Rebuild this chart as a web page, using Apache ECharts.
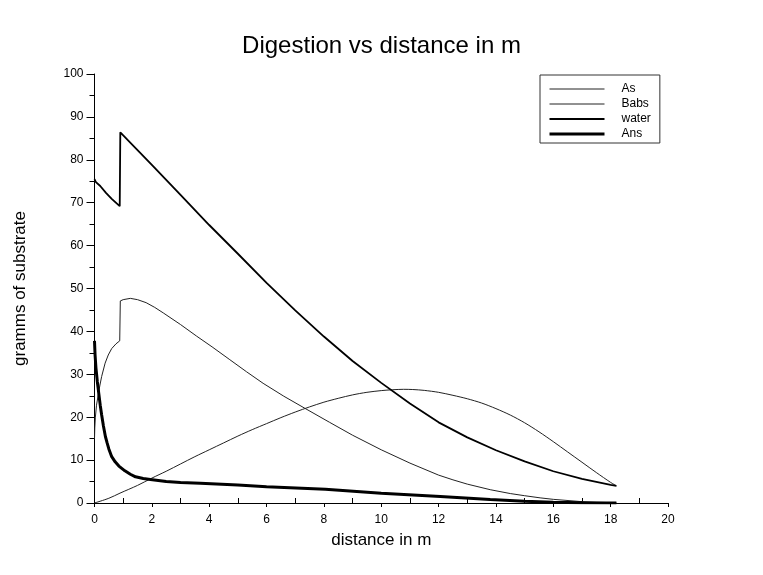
<!DOCTYPE html>
<html>
<head>
<meta charset="utf-8">
<script src="https://cdn.jsdelivr.net/npm/echarts@6/dist/echarts.min.js"></script>
<style>html,body{margin:0;padding:0;background:#fff}#c{width:763px;height:575px}</style>
</head>
<body>
<div id="c"></div>
<script>
const titleText = 'Digestion vs distance in m';
const xName = 'distance in m';
const yName = 'gramms of substrate';
const seriesNames = ['As', 'Babs', 'water', 'Ans'];

const asX = [0, 0.5, 0.89, 1.5, 2, 2.5, 3, 3.5, 4, 4.5, 5, 5.5, 6, 6.5, 7, 7.5, 8, 8.5, 9, 9.5, 10, 10.4, 10.78, 11.1, 11.5, 12, 12.5, 13, 13.5, 14, 14.5, 15, 15.5, 16, 16.5, 17, 17.5, 18, 18.2];
const asY = [0, 1.1, 2.3, 4.1, 5.8, 7.4, 9.1, 10.8, 12.4, 14.0, 15.6, 17.1, 18.5, 19.9, 21.2, 22.4, 23.5, 24.4, 25.2, 25.8, 26.2, 26.4, 26.5, 26.45, 26.25, 25.8, 25.1, 24.3, 23.3, 22.0, 20.5, 18.7, 16.6, 14.3, 11.9, 9.5, 7.1, 4.8, 4.0];

const babsX = [0, 0.01, 0.03, 0.07, 0.13, 0.19, 0.25, 0.37, 0.48, 0.6, 0.75, 0.88, 0.9, 1.0, 1.25, 1.5, 1.8, 2.1, 2.4, 3, 3.56, 4.1, 4.72, 5.3, 5.88, 6.6, 7.33, 8.2, 9, 10, 11, 12, 12.5, 13, 13.8, 14.5, 15, 15.54, 16, 16.93, 17.5, 18.2];
const babsY = [15, 17.5, 20, 22.8, 25.2, 27.5, 29.5, 32.6, 34.5, 36, 37.1, 37.8, 47.1, 47.4, 47.7, 47.4, 46.7, 45.6, 44.3, 41.6, 38.9, 36.4, 33.4, 30.6, 27.9, 24.9, 22.1, 18.8, 15.8, 12.4, 9.3, 6.5, 5.4, 4.4, 3.1, 2.2, 1.7, 1.2, 0.85, 0.35, 0.18, 0.05];

const waterX = [0, 0.05, 0.2, 0.4, 0.6, 0.88, 0.9, 2, 3, 4, 5, 6, 7, 8, 9, 10, 11, 12, 13, 14, 15, 16, 17, 18, 18.2];
const waterY = [75.5, 74.8, 73.9, 72.3, 70.9, 69.2, 86.4, 78.8, 71.8, 64.8, 58.1, 51.3, 44.9, 38.8, 33.1, 28.0, 23.2, 18.8, 15.3, 12.3, 9.7, 7.4, 5.6, 4.2, 4.0];

const ansX = [0, 0.02, 0.05, 0.1, 0.15, 0.2, 0.25, 0.31, 0.38, 0.44, 0.5, 0.6, 0.72, 0.85, 1.06, 1.25, 1.43, 1.7, 1.95, 2.5, 3, 3.69, 5, 6, 8.05, 10, 12.06, 13.8, 15, 16, 17, 18.2];
const ansY = [37.8, 34.5, 31.5, 28.2, 25.5, 22.8, 20.5, 18.0, 15.5, 14.0, 12.6, 10.8, 9.6, 8.6, 7.5, 6.7, 6.1, 5.7, 5.5, 5.0, 4.8, 4.6, 4.2, 3.8, 3.2, 2.3, 1.5, 0.8, 0.4, 0.2, 0.05, 0];

const xTicks = [0, 20, 2];
const yTicks = [0, 100, 10];

function pairs(xs, ys) { return xs.map((x, i) => [x, ys[i]]); }

const FONT = 'Liberation Sans';
const chart = echarts.init(document.getElementById('c'));
const lineSeries = (name, xs, ys, w, color, smooth) => ({
  name, type: 'line', data: pairs(xs, ys), symbol: 'none', showSymbol: false,
  smooth: smooth,
  lineStyle: { width: w, color }, itemStyle: { color },
  animation: false
});
chart.setOption({
  backgroundColor: '#fff',
  animation: false,
  title: {
    text: titleText, left: 'center', top: 29,
    textStyle: { fontFamily: FONT, fontSize: 24, fontWeight: 'normal', color: '#000' }
  },
  legend: {
    orient: 'vertical', left: 540, top: 75,
    data: seriesNames,
    backgroundColor: '#fff', borderColor: '#333', borderWidth: 1,
    padding: [8, 9, 3, 8], itemWidth: 55, itemHeight: 12, itemGap: 3,
    lineStyle: { width: 'inherit' },
    itemStyle: { color: 'rgba(0,0,0,0)', borderColor: 'rgba(0,0,0,0)', borderWidth: 0, opacity: 0 },
    textStyle: { fontFamily: FONT, fontSize: 12, lineHeight: 12, color: '#000', padding: [0, 0, 0, 12] }
  },
  grid: { left: 94.5, right: 95, top: 74, bottom: 72, containLabel: false },
  xAxis: {
    type: 'value', min: xTicks[0], max: xTicks[1], interval: xTicks[2],
    name: xName, nameLocation: 'middle', nameGap: 29,
    nameTextStyle: { fontFamily: FONT, fontSize: 17, color: '#000' },
    axisLine: { show: true, lineStyle: { color: '#000', width: 1 } },
    axisTick: { show: true, length: 4, inside: false, lineStyle: { color: '#000' } },
    minorTick: { show: true, splitNumber: 2, length: -5, lineStyle: { color: '#000' } },
    axisLabel: { fontFamily: FONT, fontSize: 12, color: '#000', margin: 11 },
    splitLine: { show: false }
  },
  yAxis: {
    type: 'value', min: yTicks[0], max: yTicks[1], interval: yTicks[2],
    name: yName, nameLocation: 'middle', nameGap: 66, nameRotate: 90,
    nameTextStyle: { fontFamily: FONT, fontSize: 17, color: '#000' },
    axisLine: { show: true, lineStyle: { color: '#000', width: 1 } },
    axisTick: { show: true, length: 8, inside: false, lineStyle: { color: '#000' } },
    minorTick: { show: true, splitNumber: 2, length: 5, lineStyle: { color: '#000' } },
    axisLabel: { fontFamily: FONT, fontSize: 12, color: '#000', margin: 11 },
    splitLine: { show: false }
  },
  series: [
    lineSeries(seriesNames[0], asX, asY, 1, '#222', 0.3),
    lineSeries(seriesNames[1], babsX, babsY, 1, '#222', false),
    lineSeries(seriesNames[2], waterX, waterY, 1.8, '#000', false),
    lineSeries(seriesNames[3], ansX, ansY, 3, '#000', false)
  ]
});
</script>
</body>
</html>
